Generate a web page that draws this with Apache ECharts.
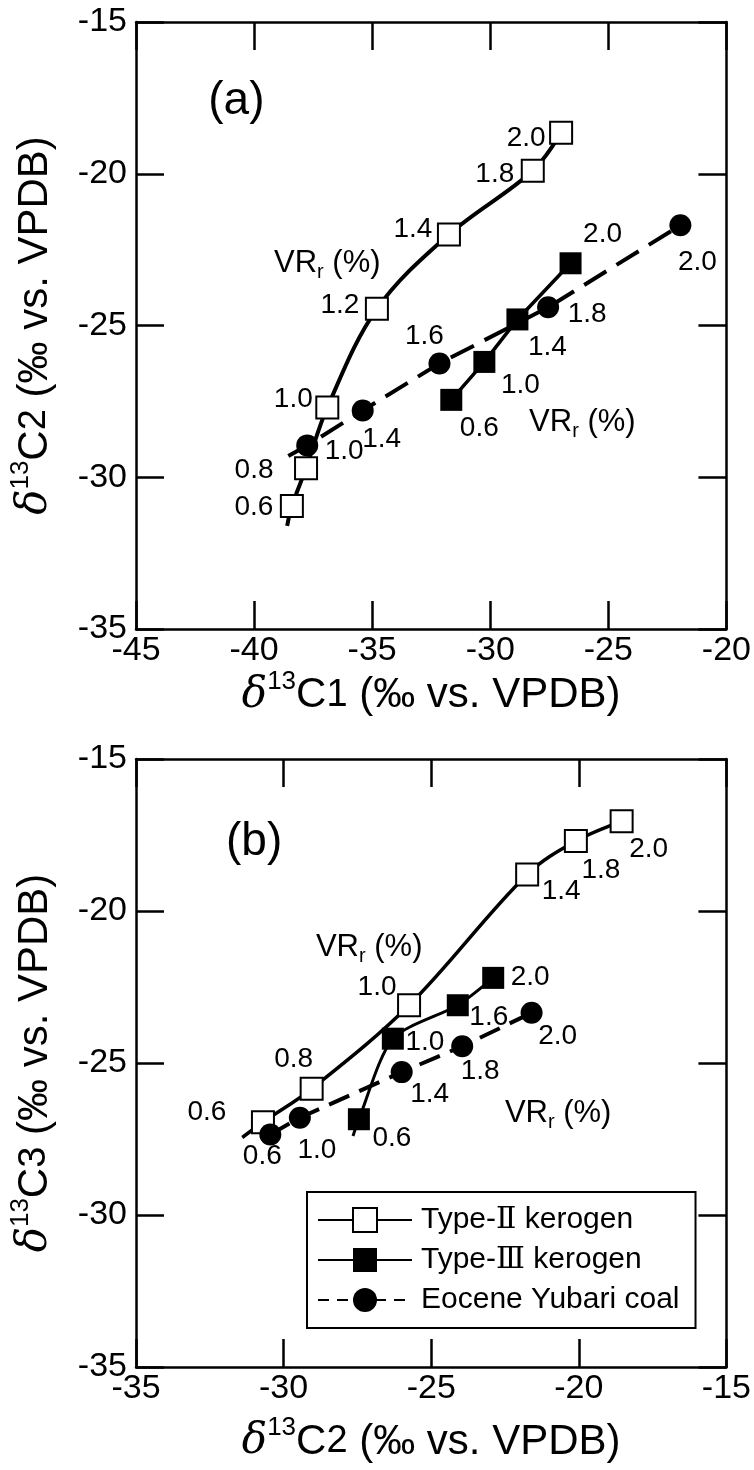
<!DOCTYPE html>
<html><head><meta charset="utf-8">
<script src="https://cdn.jsdelivr.net/npm/echarts@6/dist/echarts.min.js"></script>
<style>html,body{margin:0;padding:0;background:#fff}#c{width:754px;height:1470px}</style>
</head><body><div id="c"></div>
<script>
const FONT = 'Liberation Sans, Arial, Helvetica, sans-serif';

// ---------- Panel (a): δ13C1 (x) vs δ13C2 (y) ----------
const a_II_x  = [-38.6, -38.4, -37.8, -36.9, -34.8, -31.75, -28.2, -27.0];
const a_II_y  = [-31.6, -30.95, -29.7, -27.7, -24.45, -22.0, -19.9, -18.65];
const a_II_vr = ['', '0.6', '0.8', '1.0', '1.2', '1.4', '1.8', '2.0'];

const a_III_x  = [-31.65, -30.25, -28.85, -26.6];
const a_III_y  = [-27.45, -26.2, -24.8, -22.95];
const a_III_vr = ['0.6', '1.0', '1.4', '2.0'];

const a_coal_x  = [-38.55, -37.75, -35.4, -32.15, -27.55, -21.95];
const a_coal_y  = [-29.3, -28.95, -27.8, -26.25, -24.4, -21.7];
const a_coal_vr = ['', '1.0', '1.4', '1.6', '1.8', '2.0'];

// ---------- Panel (b): δ13C2 (x) vs δ13C3 (y) ----------
const b_II_x  = [-31.4, -30.7, -29.05, -25.75, -21.75, -20.1, -18.55];
const b_II_y  = [-27.45, -26.95, -25.85, -23.1, -18.8, -17.7, -17.05];
const b_II_vr = ['', '0.6', '0.8', '1.0', '1.4', '1.8', '2.0'];

const b_III_x  = [-27.65, -27.45, -26.3, -24.1, -22.9];
const b_III_y  = [-27.4, -26.85, -24.2, -23.1, -22.2];
const b_III_vr = ['', '0.6', '1.0', '1.6', '2.0'];

const b_coal_x  = [-30.45, -29.45, -26.0, -23.95, -21.6];
const b_coal_y  = [-27.35, -26.8, -25.3, -24.45, -23.35];
const b_coal_vr = ['0.6', '1.0', '1.4', '1.8', '2.0'];

// axis ranges / ticks
const a_xRange = [-45, -20], a_yRange = [-35, -15];
const b_xRange = [-35, -15], b_yRange = [-35, -15];
const tickStep = 5;

// series names (legend)
const NAME_II = 'Type-Ⅱ kerogen';
const NAME_III = 'Type-Ⅲ kerogen';
const NAME_COAL = 'Eocene Yubari coal';

// text annotations (panel label and VRr headers), in data coordinates
const a_note_x = [-40.75, -36.9, -26.1];
const a_note_y = [-17.6, -22.95, -28.2];
const a_note_t = ['(a)', 'VR', 'VR'];
const b_note_x = [-31.0, -27.1, -20.7];
const b_note_y = [-17.75, -21.2, -26.65];
const b_note_t = ['(b)', 'VR', 'VR'];

// label placement (pixel offsets from marker centre) – layout only
const a_II_off   = [null, [-38,1], [-52,2], [-34,-8], [-37,-4], [-36,-5], [-38,4], [-35,6]];
const a_III_off  = [[28,28], [36,23], [30,28], [32,-29]];
const a_coal_off = [null, [37,6], [19,29], [-15,-27], [39,7], [17,37]];
const b_II_off   = [null, [-56,-10], [-18,-30], [-32,-18], [34,17], [25,29], [27,28]];
const b_III_off  = [null, [33,19], [32,4], [31,12], [37,-1]];
const b_coal_off = [[-8,22], [17,33], [28,22], [18,25], [26,23]];

function pts(xs, ys, vrs, offs) {
  return xs.map((x, i) => {
    const vr = vrs[i];
    const item = { value: [x, ys[i]] };
    if (!vr) {
      item.symbol = 'none';
      item.label = { show: false };
    } else {
      item.label = { show: true, formatter: vr, position: 'inside', offset: offs[i] };
    }
    return item;
  });
}

const labelBase = { color: '#000', fontSize: 28, fontFamily: FONT, align: 'center', verticalAlign: 'middle' };
const openSq = { color: '#fff', borderColor: '#000', borderWidth: 2, opacity: 1 };
const fillSq = { color: '#000', borderColor: '#000', borderWidth: 0, opacity: 1 };

function lineSeries(name, xi, data, opts) {
  return Object.assign({
    name, type: 'line', xAxisIndex: xi, yAxisIndex: xi,
    data, symbolSize: 22, showAllSymbol: true,
    label: Object.assign({}, labelBase),
    emphasis: { disabled: true }, animation: false
  }, opts);
}

function notes(xs, ys, ts, xi) {
  return {
    type: 'scatter', xAxisIndex: xi, yAxisIndex: xi, symbolSize: 0.01, silent: true,
    itemStyle: { color: '#000', opacity: 1 }, animation: false, z: 10,
    emphasis: { disabled: true },
    data: xs.map((x, i) => ({
      value: [x, ys[i]],
      label: {
        show: true, position: 'inside',
        formatter: ts[i] === 'VR' ? 'VR{s|r} (%)' : ts[i],
        fontSize: ts[i] === 'VR' ? 31 : 46, color: '#000', fontFamily: FONT,
        lineHeight: 38, textBorderWidth: 0,
        rich: { s: { fontSize: 20, lineHeight: 16, verticalAlign: 'bottom', fontFamily: FONT, color: '#000' } }
      }
    }))
  };
}

const titleRich = {
  d: { fontStyle: 'italic', fontFamily: 'DejaVu Serif, Liberation Serif, serif', fontSize: 42, color: '#000' },
  sup: { fontSize: 26, lineHeight: 54, verticalAlign: 'top', padding: [0,0,15,0], fontFamily: FONT, color: '#000' },
  n: { fontSize: 38, fontFamily: FONT, color: '#000' }
};
function axTitle(n) { return '{d|δ}{sup|13}C{n|' + n + '} (‰ vs. VPDB)'; }

function mkX(grid, range, pos, name, gap) {
  const ax = {
    type: 'value', gridIndex: grid, position: pos, min: range[0], max: range[1], interval: tickStep,
    axisLine: { show: true, onZero: false, lineStyle: { color: '#000', width: 2.5 } },
    axisTick: { show: true, inside: true, length: 28, lineStyle: { color: '#000', width: 2.5 } },
    splitLine: { show: false },
    axisLabel: { show: pos === 'bottom', color: '#000', fontSize: 34, fontFamily: FONT, margin: 5 }
  };
  if (name) {
    Object.assign(ax, { name, nameLocation: 'middle', nameGap: gap,
      nameTextStyle: { fontSize: 42, fontFamily: FONT, color: '#000', rich: titleRich } });
  }
  return ax;
}
function mkY(grid, range, pos, name, gap) {
  const ax = mkX(grid, range, pos, name, gap);
  ax.axisLabel.show = pos === 'left';
  ax.axisLabel.margin = 9;
  return ax;
}

const option = {
  backgroundColor: '#fff',
  animation: false,
  grid: [
    { left: 128, right: 20, top: 22, height: 607 },
    { left: 129, right: 19, top: 759, height: 608 }
  ],
  xAxis: [
    mkX(0, a_xRange, 'bottom', axTitle(1), 36),
    mkX(0, a_xRange, 'top'),
    mkX(1, b_xRange, 'bottom', axTitle(2), 48),
    mkX(1, b_xRange, 'top')
  ],
  yAxis: [
    mkY(0, a_yRange, 'left', axTitle(2), 74),
    mkY(0, a_yRange, 'right'),
    mkY(1, b_yRange, 'left', axTitle(3), 74),
    mkY(1, b_yRange, 'right')
  ],
  legend: {
    orient: 'vertical', left: 307, top: 1192,
    data: [
      { name: NAME_II, itemStyle: openSq, lineStyle: { type: 'solid', width: 2, color: '#000' } },
      { name: NAME_III, itemStyle: fillSq, lineStyle: { type: 'solid', width: 2, color: '#000' } },
      { name: NAME_COAL, itemStyle: fillSq, lineStyle: { type: [11, 8], width: 2, color: '#000' } }
    ],
    itemWidth: 94, itemHeight: 30, itemGap: 10,
    padding: [13, 16, 13, 10],
    borderColor: '#000', borderWidth: 2, backgroundColor: '#fff',
    selectedMode: false,
    textStyle: {
      fontSize: 30, fontFamily: FONT, color: '#000', padding: [0, 0, 0, 4],
      rich: { r: { fontSize: 30, fontFamily: 'DejaVu Serif, Liberation Serif, serif', color: '#000' } }
    },
    formatter: n => n.replace(/([ⅡⅢ])/, '{r|$1}')
  },
  series: [
    // panel (a)
    lineSeries(NAME_II, 0, pts(a_II_x, a_II_y, a_II_vr, a_II_off),
      { symbol: 'rect', smooth: 0.35, lineStyle: { color: '#000', width: 4 }, itemStyle: openSq, z: 2 }),
    lineSeries(NAME_III, 0, pts(a_III_x, a_III_y, a_III_vr, a_III_off),
      { symbol: 'rect', lineStyle: { color: '#000', width: 3.5 }, itemStyle: fillSq, z: 3 }),
    lineSeries(NAME_COAL, 0, pts(a_coal_x, a_coal_y, a_coal_vr, a_coal_off),
      { symbol: 'circle', lineStyle: { color: '#000', width: 4, type: [26, 12] }, itemStyle: fillSq, z: 4 }),
    // panel (b)
    lineSeries(NAME_II, 2, pts(b_II_x, b_II_y, b_II_vr, b_II_off),
      { symbol: 'rect', smooth: 0.35, lineStyle: { color: '#000', width: 3.5 }, itemStyle: openSq, z: 2 }),
    lineSeries(NAME_III, 2, pts(b_III_x, b_III_y, b_III_vr, b_III_off),
      { symbol: 'rect', smooth: 0.25, lineStyle: { color: '#000', width: 3 }, itemStyle: fillSq, z: 3 }),
    lineSeries(NAME_COAL, 2, pts(b_coal_x, b_coal_y, b_coal_vr, b_coal_off),
      { symbol: 'circle', lineStyle: { color: '#000', width: 4, type: [22, 11] }, itemStyle: fillSq, z: 4 }),
    notes(a_note_x, a_note_y, a_note_t, 0),
    notes(b_note_x, b_note_y, b_note_t, 2)
  ]
};

const chart = echarts.init(document.getElementById('c'), null, { renderer: 'canvas' });
chart.setOption(option);
</script></body></html>
